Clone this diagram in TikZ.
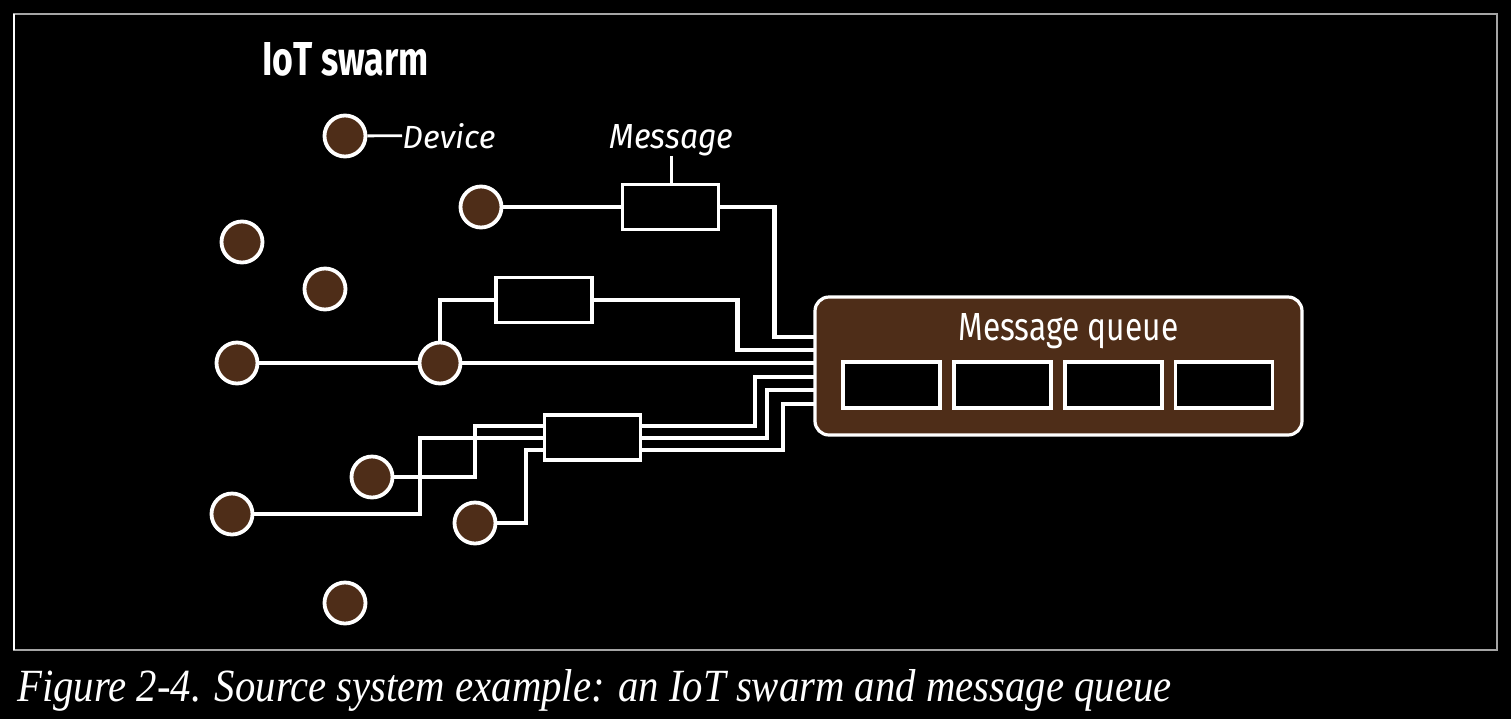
\documentclass[tikz,border=0pt]{standalone}
\usepackage{fontspec}
\setmainfont{Liberation Serif}
\newfontfamily\sansf{Fira Sans}
\usepackage{graphicx}
\definecolor{devbrown}{RGB}{78,45,24}
\definecolor{framegray}{RGB}{165,165,165}
\begin{document}
\begin{tikzpicture}[x=0.5pt,y=-0.5pt,
  dev/.style={circle,draw=white,fill=devbrown,line width=1.9pt,minimum size=20.5pt,inner sep=0pt},
  msg/.style={rectangle,draw=white,fill=black,line width=1.6pt,minimum width=48pt,minimum height=22.5pt,inner sep=0pt},
  slot/.style={rectangle,draw=white,fill=black,line width=1.6pt,minimum width=48.5pt,minimum height=23pt,inner sep=0pt},
  queue/.style={rectangle,rounded corners=7pt,draw=white,fill=devbrown,line width=1.6pt,minimum width=243.5pt,minimum height=69pt,inner sep=0pt},
  wire/.style={draw=white,line width=2.4pt},
  thinline/.style={draw=white,line width=1.4pt},
  lbl/.style={inner sep=0pt,anchor=base west,text=white}
]
\fill[black] (0,0) rectangle (1511,719);
\useasboundingbox (0,0) rectangle (1511,719);
\draw[framegray,line width=1pt] (14,14) rectangle (1497,650);
\draw[white,line width=1pt] (14,14) -- (14,650);

% texts
\node[lbl] (title) at (262,75) {\resizebox{83pt}{16.5pt}{\sansf\bfseries IoT swarm}};
\node[lbl] (devlbl) at (402,148) {\resizebox{46.5pt}{12.5pt}{\sansf\itshape Device}};
\node[lbl] (msglbl) at (609,148) {\resizebox{62pt}{12pt}{\sansf\itshape Message}};
\node[lbl] (cap) at (17,701) {\resizebox{577pt}{16pt}{\itshape Figure 2-4. Source system example: an IoT swarm and message queue}};

% queue
\node[queue] (q) at (1058.5,366) {};
\node[lbl] (qlbl) at (958,340) {\resizebox{110pt}{13.5pt}{\sansf Message queue}};
\node[slot] (s1) at (891.5,385) {};
\node[slot] (s2) at (1002.5,385) {};
\node[slot] (s3) at (1113.5,385) {};
\node[slot] (s4) at (1224,385) {};

% devices
\node[dev] (d0) at (345,136) {};
\node[dev] (d1) at (242,242) {};
\node[dev] (d2) at (325,289) {};
\node[dev] (A) at (481,207) {};
\node[dev] (C) at (237,363) {};
\node[dev] (B) at (440,363) {};
\node[dev] (E) at (372,477) {};
\node[dev] (F) at (232,514) {};
\node[dev] (G) at (475,523) {};
\node[dev] (H) at (345,603) {};

% messages
\node[msg] (b1) at (670.5,207) {};
\node[msg] (b2) at (544,300) {};
\node[msg] (b3) at (592.5,437.5) {};

% entry points
\coordinate (in1) at (815,337);
\coordinate (in2) at (815,350);
\coordinate (in3) at (815,363);
\coordinate (in4) at (815,377);
\coordinate (in5) at (815,390);
\coordinate (in6) at (815,404);
\coordinate (b3l1) at (544,426);
\coordinate (b3l2) at (544,438);
\coordinate (b3l3) at (544,450);
\coordinate (b3r1) at (641,426);
\coordinate (b3r2) at (641,438);
\coordinate (b3r3) at (641,450);

% legend lines
\draw[thinline] (d0) -- (devlbl.west);
\draw[thinline] (msglbl.south) -- (msglbl.south |- b1.north);

% wires
\draw[wire] (A) -- (b1);
\draw[wire] (b1.east) -- ++(54,0) |- (in1);
\draw[wire] (B) |- (b2);
\draw[wire] (b2.east) -- ++(144,0) |- (in2);
\draw[wire] (C) -- (B);
\draw[wire] (B) -- (in3);
\draw[wire] (E) -- (475,477) -- (475,426) -- (b3l1);
\draw[wire] (F) -- (420,514) -- (420,438) -- (b3l2);
\draw[wire] (G) -- (526,523) -- (526,450) -- (b3l3);
\draw[wire] (b3r1) -- (755,426) -- (755,377) -- (in4);
\draw[wire] (b3r2) -- (767,438) -- (767,390) -- (in5);
\draw[wire] (b3r3) -- (783,450) -- (783,404) -- (in6);
\end{tikzpicture}
\end{document}
